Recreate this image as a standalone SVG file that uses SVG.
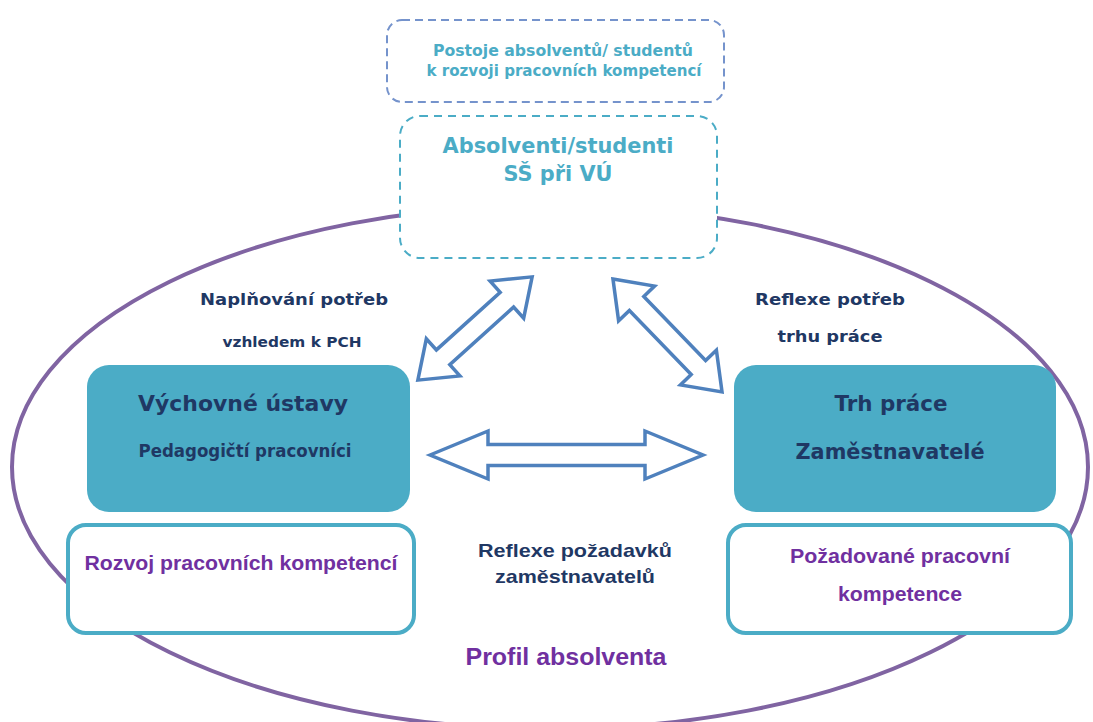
<svg xmlns="http://www.w3.org/2000/svg" width="1093" height="722" viewBox="0 0 1093 722">
<style>
.navy{fill:#1f3864;font-family:"DejaVu Sans",Verdana,sans-serif;font-weight:bold}
.cyanT{fill:#4bacc6;font-family:"DejaVu Sans",Verdana,sans-serif;font-weight:bold}
.purp{fill:#7030a0;font-family:"Liberation Sans",Arial,sans-serif;font-weight:bold}
.solid{fill:#4bacc6}
.outline{fill:#ffffff;stroke:#4bacc6;stroke-width:4}
.arrow{fill:#ffffff;stroke:#4f81bd;stroke-width:3.5;stroke-linejoin:miter}
</style>
<rect width="1093" height="722" fill="#ffffff"/>
<g id="profil">
<ellipse cx="550" cy="467" rx="538" ry="262" fill="none" stroke="#8064a2" stroke-width="4"/>
<text class="purp" x="566" y="665" font-size="23" text-anchor="middle" textLength="201" lengthAdjust="spacingAndGlyphs">Profil absolventa</text>
</g>
<g id="postoje">
<rect x="387" y="20" width="337" height="82" rx="15" fill="#ffffff" stroke="#7593cc" stroke-width="2" stroke-dasharray="8 5"/>
<text class="cyanT" x="563" y="56" font-size="15" text-anchor="middle" textLength="260" lengthAdjust="spacingAndGlyphs">Postoje absolventů/ studentů</text>
<text class="cyanT" x="564" y="76" font-size="15" text-anchor="middle" textLength="275" lengthAdjust="spacingAndGlyphs">k rozvoji pracovních kompetencí</text>
</g>
<g id="absolventi">
<rect x="400" y="116" width="317" height="142" rx="20" fill="#ffffff" stroke="#4bacc6" stroke-width="2" stroke-dasharray="8 6"/>
<text class="cyanT" x="558" y="153" font-size="22" text-anchor="middle" textLength="231" lengthAdjust="spacingAndGlyphs">Absolventi/studenti</text>
<text class="cyanT" x="558" y="181" font-size="22" text-anchor="middle" textLength="109" lengthAdjust="spacingAndGlyphs">SŠ při VÚ</text>
</g>
<g id="vychovne">
<rect class="solid" x="87" y="365" width="323" height="147" rx="22"/>
<text class="navy" x="243" y="411" font-size="22" text-anchor="middle" textLength="210" lengthAdjust="spacingAndGlyphs">Výchovné ústavy</text>
<text class="navy" x="245" y="457" font-size="17" text-anchor="middle" textLength="213" lengthAdjust="spacingAndGlyphs" style="font-weight:600">Pedagogičtí pracovníci</text>
</g>
<g id="trh">
<rect class="solid" x="734" y="365" width="322" height="147" rx="22"/>
<text class="navy" x="891" y="411" font-size="21" text-anchor="middle" textLength="113" lengthAdjust="spacingAndGlyphs">Trh práce</text>
<text class="navy" x="890" y="459" font-size="21" text-anchor="middle" textLength="189" lengthAdjust="spacingAndGlyphs">Zaměstnavatelé</text>
</g>
<g id="rozvoj">
<rect class="outline" x="68" y="525" width="346" height="108" rx="18"/>
<text class="purp" x="241" y="570" font-size="20" text-anchor="middle" textLength="313" lengthAdjust="spacingAndGlyphs">Rozvoj pracovních kompetencí</text>
</g>
<g id="pozadovane">
<rect class="outline" x="728" y="525" width="343" height="108" rx="18"/>
<text class="purp" x="900" y="563" font-size="20" text-anchor="middle" textLength="220" lengthAdjust="spacingAndGlyphs">Požadované pracovní</text>
<text class="purp" x="900" y="601" font-size="20" text-anchor="middle" textLength="124" lengthAdjust="spacingAndGlyphs">kompetence</text>
</g>
<g id="labels">
<text class="navy" x="294" y="305" font-size="16" text-anchor="middle" textLength="188" lengthAdjust="spacingAndGlyphs">Naplňování potřeb</text>
<text class="navy" x="292" y="347" font-size="14" text-anchor="middle" textLength="139" lengthAdjust="spacingAndGlyphs">vzhledem k PCH</text>
<text class="navy" x="830" y="305" font-size="16" text-anchor="middle" textLength="150" lengthAdjust="spacingAndGlyphs">Reflexe potřeb</text>
<text class="navy" x="830" y="342" font-size="16" text-anchor="middle" textLength="105" lengthAdjust="spacingAndGlyphs">trhu práce</text>
<text class="navy" x="575" y="557" font-size="19" text-anchor="middle" textLength="194" lengthAdjust="spacingAndGlyphs" style="font-family:'Liberation Sans',Arial,sans-serif">Reflexe požadavků</text>
<text class="navy" x="575" y="583" font-size="19" text-anchor="middle" textLength="160" lengthAdjust="spacingAndGlyphs" style="font-family:'Liberation Sans',Arial,sans-serif">zaměstnavatelů</text>
</g>
<g id="connectors">
<path class="arrow" transform="translate(566.5,455)" d="M-136.5,0 L-78.5,-24 L-78.5,-10.5 L78.5,-10.5 L78.5,-24 L136.5,0 L78.5,24 L78.5,10.5 L-78.5,10.5 L-78.5,24 Z"/>
<path class="arrow" transform="translate(475,328.5) rotate(-42.1)" d="M-77,0 L-43,-25 L-43,-10 L43,-10 L43,-25 L77,0 L43,25 L43,10 L-43,10 L-43,25 Z"/>
<path class="arrow" transform="translate(667.5,335.5) rotate(46)" d="M-78.5,0 L-44.5,-25 L-44.5,-10 L44.5,-10 L44.5,-25 L78.5,0 L44.5,25 L44.5,10 L-44.5,10 L-44.5,25 Z"/>
</g>
</svg>
